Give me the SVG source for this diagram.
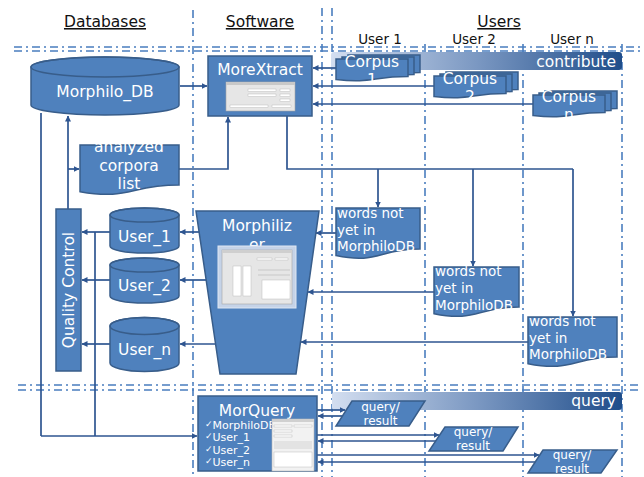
<svg xmlns="http://www.w3.org/2000/svg" width="644" height="477" viewBox="0 0 644 477">
<style>
text{font-family:"DejaVu Sans","Liberation Sans",sans-serif}
.hd{font-size:15.5px;fill:#111;text-anchor:middle;text-decoration:underline}
.ul{font-size:13.5px;fill:#111;text-anchor:middle}
.node{fill:#4f81bd;stroke:#385d8a;stroke-width:1.5}
.t{fill:#fff;font-size:15.5px;text-anchor:middle}
.w{fill:#fff;font-size:13.5px}
.q{fill:#fff;font-size:12px;text-anchor:middle}
.ck{fill:#fff;font-size:11px}
.grid{fill:none;stroke:#4a7ebf;stroke-width:1.6;stroke-dasharray:8 4 2 4}
.c{fill:none;stroke:#2e5590;stroke-width:1.7}
.ca{fill:none;stroke:#2e5590;stroke-width:1.7;marker-end:url(#ah)}
.ss{fill:#e6e6e6;stroke:#a6a6a6;stroke-width:0.6}
.in{fill:#fff;stroke:#b0b0b0;stroke-width:0.4}
</style>
<defs>
<marker id="ah" viewBox="0 0 6 6" refX="5.5" refY="3" markerWidth="6" markerHeight="6" markerUnits="userSpaceOnUse" orient="auto">
<path d="M0,0 L6,3 L0,6 z" fill="#2e5590"/>
</marker>
<linearGradient id="gb" x1="0" y1="0" x2="1" y2="0">
<stop offset="0" stop-color="#d3def0"/>
<stop offset="0.5" stop-color="#7b98c2"/>
<stop offset="1" stop-color="#1f4d8a"/>
</linearGradient>
</defs>

<g id="grid">
<path class="grid" d="M14,47 H640 M14,51 H640 M18,385 H640 M18,390 H640"/>
<path class="grid" d="M193,10 V477 M322,8 V477 M332,8 V477 M425,44 V477 M523,44 V477 M622,44 V477"/>
</g>

<g id="headers">
<text class="hd" x="105" y="27">Databases</text>
<text class="hd" x="260" y="27">Software</text>
<text class="hd" x="499" y="27">Users</text>
<text class="ul" x="380" y="44">User 1</text>
<text class="ul" x="474" y="44">User 2</text>
<text class="ul" x="572" y="44">User n</text>
</g>

<g id="contribute-bar">
<rect x="331" y="52" width="291" height="18" rx="3" fill="url(#gb)"/>
<text class="t" x="616" y="67" style="text-anchor:end">contribute</text>
</g>
<g id="query-bar">
<rect x="332" y="392" width="290" height="18" rx="3" fill="url(#gb)"/>
<text class="t" x="616" y="406" style="text-anchor:end">query</text>
</g>

<g id="connectors">
<path class="ca" d="M180,86 H207"/>
<path class="ca" d="M179,169 H228 V117"/>
<path class="c" d="M287,116 V169 H573"/>
<path class="ca" d="M378,169 V207"/>
<path class="ca" d="M473,169 V266"/>
<path class="ca" d="M573,169 V316"/>
<path class="ca" d="M336,68 H313"/>
<path class="ca" d="M434,86 H313"/>
<path class="ca" d="M533,104 H313"/>
<path class="ca" d="M336,233 H316"/>
<path class="ca" d="M434,292 H308"/>
<path class="ca" d="M528,342 H301"/>
<path class="ca" d="M199,232 H180"/>
<path class="ca" d="M206,280 H180"/>
<path class="ca" d="M215,344 H180"/>
<path class="ca" d="M110,232 H82"/>
<path class="ca" d="M110,280 H82"/>
<path class="ca" d="M110,344 H82"/>
<path class="ca" d="M68,209 V116"/>
<path class="ca" d="M68,169 H79"/>
<path class="c" d="M41,113 V436"/>
<path class="c" d="M95,232 V436"/>
<path class="ca" d="M41,436 H197"/>
<path class="ca" d="M317,410 H345"/>
<path class="ca" d="M342,416 H318"/>
<path class="ca" d="M317,435 H439"/>
<path class="ca" d="M436,441 H318"/>
<path class="ca" d="M317,455 H539"/>
<path class="ca" d="M535,462 H318"/>
</g>

<g id="morphilo-db">
<path class="node" d="M31,67 A74,10 0 0 1 179,67 V105 A74,10 0 0 1 31,105 Z"/>
<ellipse cx="105" cy="67" rx="74" ry="10" fill="none" stroke="#385d8a" stroke-width="1.5"/>
<text class="t" x="105" y="97">Morphilo_DB</text>
</g>

<g id="morextract">
<rect class="node" x="208" y="56" width="104" height="60"/>
<text class="t" x="260" y="75">MoreXtract</text>
<rect class="ss" x="226" y="82" width="69" height="29"/>
<rect x="226" y="82" width="69" height="3" fill="#c8c8c8"/>
<rect class="in" x="248" y="89" width="28" height="2.5"/>
<rect class="in" x="248" y="94" width="28" height="2.5"/>
<rect class="in" x="280" y="89" width="10" height="2.5"/>
<rect class="in" x="280" y="94" width="10" height="2.5"/>
<rect class="in" x="280" y="99" width="10" height="2.5"/>
<rect class="in" x="230" y="105" width="38" height="2.5"/>
<rect class="in" x="272" y="105" width="19" height="2.5"/>
</g>

<g id="analyzed-corpora-list">
<path class="node" d="M80,145 H179 V185 C129.5,185 129.5,200.4 80,191.7 Z"/>
<text class="t" x="129" y="152">analyzed</text>
<text class="t" x="129" y="171">corpora</text>
<text class="t" x="129" y="189">list</text>
</g>

<g id="corpus-1">
<path class="node" d="M348,55 H420 V72.6 C384,72.6 384,79.4 348,75.5 Z"/>
<path class="node" d="M342,57 H414 V74.6 C378,74.6 378,81.4 342,77.5 Z"/>
<path class="node" d="M336,59 H408 V76.6 C372,76.6 372,83.4 336,79.5 Z"/>
<text class="t" x="372" y="67">Corpus</text>
<text class="t" x="372" y="85">1</text>
</g>
<g id="corpus-2">
<path class="node" d="M446,72 H518 V89.6 C482,89.6 482,96.4 446,92.5 Z"/>
<path class="node" d="M440,74 H512 V91.6 C476,91.6 476,98.4 440,94.5 Z"/>
<path class="node" d="M434,76 H506 V93.6 C470,93.6 470,100.4 434,96.5 Z"/>
<text class="t" x="470" y="84">Corpus</text>
<text class="t" x="470" y="102">2</text>
</g>
<g id="corpus-n">
<path class="node" d="M545,91 H617 V108.6 C581,108.6 581,115.4 545,111.5 Z"/>
<path class="node" d="M539,93 H611 V110.6 C575,110.6 575,117.4 539,113.5 Z"/>
<path class="node" d="M533,95 H605 V112.6 C569,112.6 569,119.4 533,115.5 Z"/>
<text class="t" x="569" y="102">Corpus</text>
<text class="t" x="569" y="120">n</text>
</g>

<g id="morphilizer">
<path class="node" d="M196,211 H319 L296,374 H220 Z"/>
<text class="t" x="257" y="231">Morphiliz</text>
<text class="t" x="257" y="250">er</text>
<rect x="218" y="246" width="78" height="62" fill="#c5d3e8" stroke="#dfe7f3" stroke-width="1"/>
<rect class="ss" x="222" y="250" width="70" height="54"/>
<rect x="222" y="250" width="70" height="3" fill="#cfcfcf"/>
<rect class="in" x="257" y="258" width="15" height="2"/>
<rect class="in" x="275" y="258" width="13" height="2"/>
<rect class="in" x="233" y="266" width="8" height="30"/>
<rect class="in" x="243" y="266" width="8" height="30"/>
<rect class="in" x="262" y="280" width="28" height="19"/>
<path d="M258,270 H290 M258,275 H290" stroke="#b5b5b5" stroke-width="0.6"/>
</g>

<g id="words-1">
<path class="node" d="M336,208 H420 V249 C378,249 378,264.5 336,255.6 Z"/>
<text class="w" x="337" y="218">words not</text>
<text class="w" x="337" y="235">yet in</text>
<text class="w" x="337" y="251">MorphiloDB</text>
</g>
<g id="words-2">
<path class="node" d="M434,267 H519 V307 C476.5,307 476.5,322.4 434,313.7 Z"/>
<text class="w" x="435" y="276">words not</text>
<text class="w" x="435" y="293">yet in</text>
<text class="w" x="435" y="310">MorphiloDB</text>
</g>
<g id="words-n">
<path class="node" d="M528,317 H617 V357 C572.5,357 572.5,372.4 528,363.7 Z"/>
<text class="w" x="529" y="326">words not</text>
<text class="w" x="529" y="343">yet in</text>
<text class="w" x="529" y="359">MorphiloDB</text>
</g>

<g id="user-1-db">
<path class="node" d="M110,215 A34.5,7 0 0 1 179,215 V246 A34.5,7 0 0 1 110,246 Z"/>
<ellipse cx="144.5" cy="215" rx="34.5" ry="7" fill="none" stroke="#385d8a" stroke-width="1.5"/>
<text class="t" x="144.5" y="242">User_1</text>
</g>
<g id="user-2-db">
<path class="node" d="M110,265 A34.5,7 0 0 1 179,265 V296 A34.5,7 0 0 1 110,296 Z"/>
<ellipse cx="144.5" cy="265" rx="34.5" ry="7" fill="none" stroke="#385d8a" stroke-width="1.5"/>
<text class="t" x="144.5" y="291">User_2</text>
</g>
<g id="user-n-db">
<path class="node" d="M110,326 A34.5,8.5 0 0 1 179,326 V363 A34.5,8.5 0 0 1 110,363 Z"/>
<ellipse cx="144.5" cy="326" rx="34.5" ry="8.5" fill="none" stroke="#385d8a" stroke-width="1.5"/>
<text class="t" x="144.5" y="355">User_n</text>
</g>

<g id="quality-control">
<rect class="node" x="56" y="209" width="25" height="162"/>
<text class="t" transform="translate(74,290) rotate(-90)">Quality Control</text>
</g>

<g id="morquery">
<rect class="node" x="198" y="396" width="119" height="75"/>
<text class="t" x="257" y="416">MorQuery</text>
<text class="ck" x="205" y="429"><tspan font-size="9" dy="-2">✓</tspan><tspan dy="2">MorphiloDB</tspan></text>
<text class="ck" x="205" y="441"><tspan font-size="9" dy="-2">✓</tspan><tspan dy="2">User_1</tspan></text>
<text class="ck" x="205" y="453.5"><tspan font-size="9" dy="-2">✓</tspan><tspan dy="2">User_2</tspan></text>
<text class="ck" x="205" y="466"><tspan font-size="9" dy="-2">✓</tspan><tspan dy="2">User_n</tspan></text>
<rect x="272" y="419" width="42" height="52" fill="#f2f2f2" stroke="#b5b5b5" stroke-width="0.6"/>
<rect x="272" y="419" width="42" height="3" fill="#d0d0d0"/>
<rect class="in" x="274" y="425" width="18" height="2"/>
<rect class="in" x="294" y="425" width="18" height="2"/>
<rect class="in" x="274" y="430" width="18" height="2"/>
<rect class="in" x="274" y="435" width="18" height="2"/>
<rect x="274" y="441" width="38" height="8" fill="#e3e3e3"/>
<rect class="in" x="274" y="452" width="38" height="15"/>
</g>

<g id="query-result-1">
<path class="node" d="M352,401 H425 L409,426 H336 Z"/>
<text class="q" x="380.5" y="411">query/</text>
<text class="q" x="380.5" y="425">result</text>
</g>
<g id="query-result-2">
<path class="node" d="M445,427 H518 L503,451 H429 Z"/>
<text class="q" x="473" y="436">query/</text>
<text class="q" x="473" y="450">result</text>
</g>
<g id="query-result-n">
<path class="node" d="M543,450 H617 L601,473 H528 Z"/>
<text class="q" x="572" y="459">query/</text>
<text class="q" x="572" y="473">result</text>
</g>
</svg>
